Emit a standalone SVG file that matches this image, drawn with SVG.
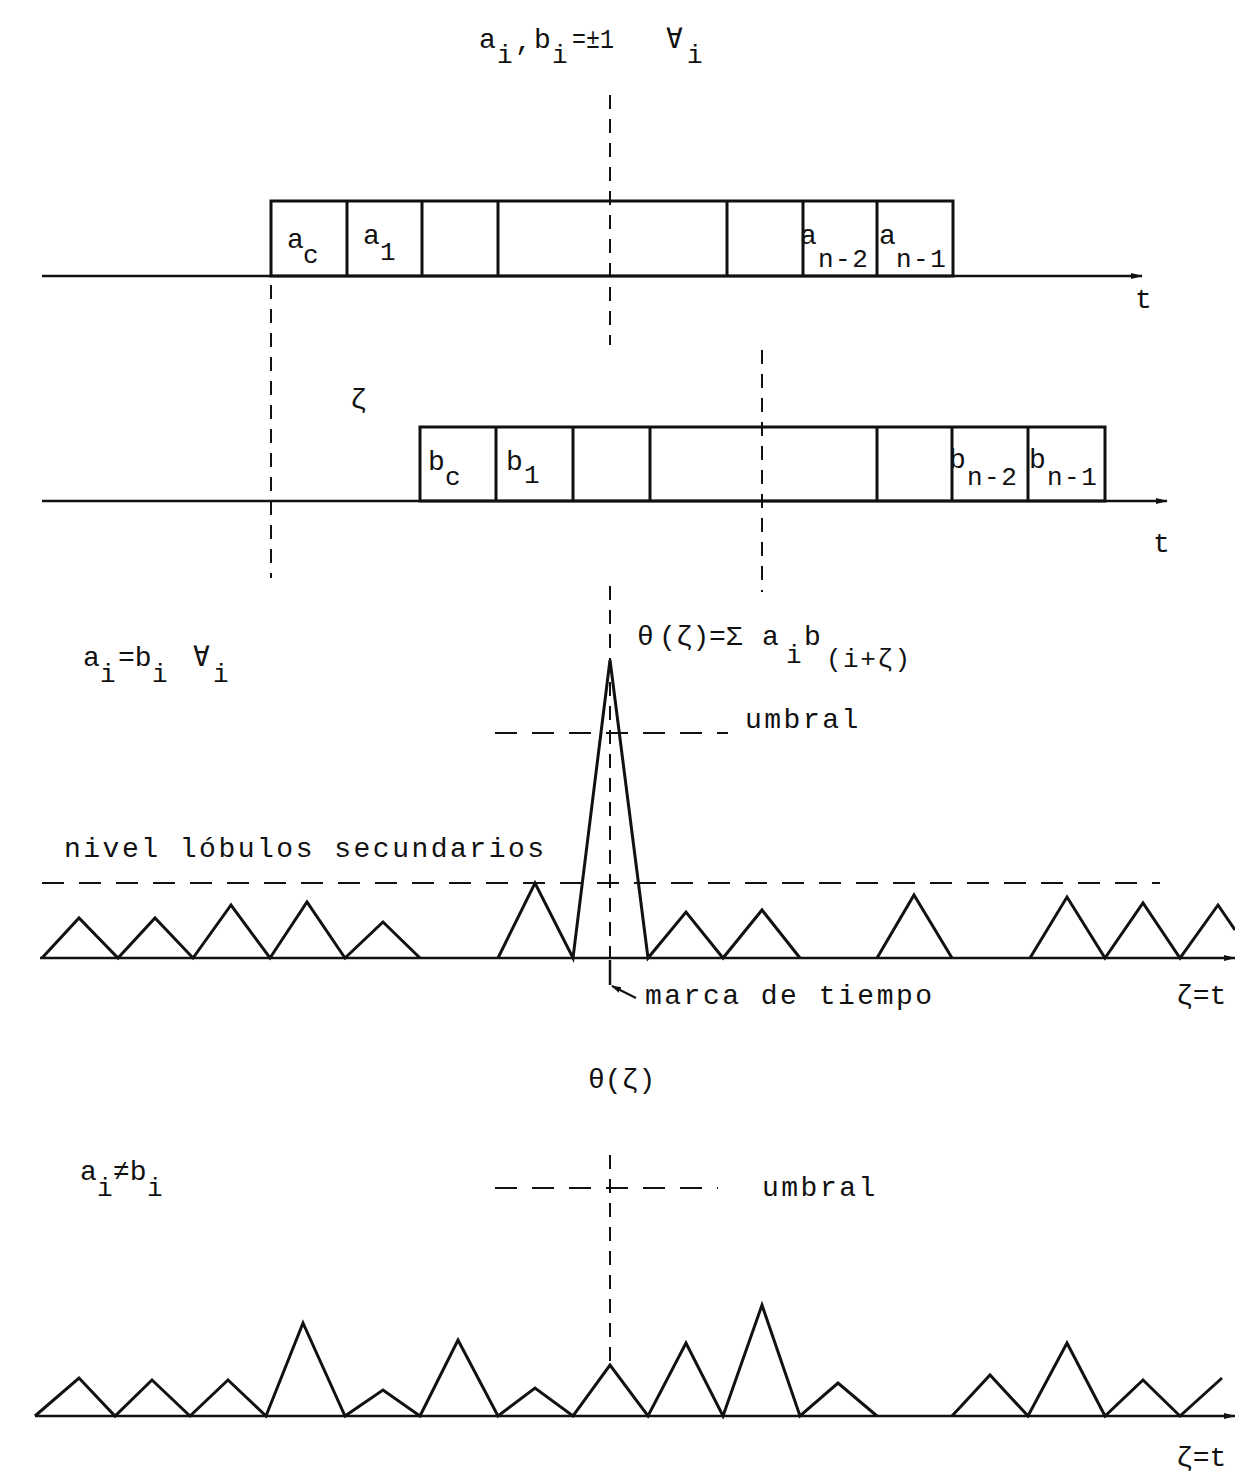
<svg xmlns="http://www.w3.org/2000/svg" width="1235" height="1484" viewBox="0 0 1235 1484">
<style>
text{font-family:"Liberation Mono","DejaVu Sans Mono",monospace;font-size:28px;letter-spacing:2.5px;fill:#111;}
.s{font-size:26px;letter-spacing:1.5px;}
.n{letter-spacing:0px;}
.ax{stroke:#111;stroke-width:2.5;fill:none;}
.bx{stroke:#111;stroke-width:3;fill:none;}
.dv{stroke:#111;stroke-width:2;stroke-dasharray:14 10;fill:none;}
.dh{stroke:#111;stroke-width:2.2;stroke-dasharray:22 15;fill:none;}
.tri{stroke:#111;stroke-width:3;fill:none;stroke-linejoin:miter;}
</style>
<defs>
<marker id="arr" markerWidth="12" markerHeight="8" refX="11" refY="4" orient="auto" markerUnits="userSpaceOnUse">
<path d="M0,1 L12,4 L0,7 Z" fill="#111"/>
</marker>
<marker id="arr2" markerWidth="10" markerHeight="8" refX="9" refY="4" orient="auto" markerUnits="userSpaceOnUse">
<path d="M0,1 L10,4 L0,7 Z" fill="#111"/>
</marker>
</defs>

<g id="title">
<text x="479" y="48">a</text><text x="497" y="63" class="s">i</text><text x="515" y="50">,</text>
<text x="534" y="48">b</text><text x="552" y="63" class="s">i</text><text x="572" y="48" class="n" font-size="26" textLength="42" lengthAdjust="spacingAndGlyphs">=±1</text>
<text x="666" y="48">∀</text><text x="687" y="63" class="s">i</text>
</g>

<g id="connectors">
<line class="ax" x1="42" y1="276" x2="1142" y2="276" marker-end="url(#arr)"/>
<line class="ax" x1="42" y1="501" x2="1167" y2="501" marker-end="url(#arr)"/>
<line class="ax" x1="40" y1="958" x2="1235" y2="958" marker-end="url(#arr)"/>
<line class="ax" x1="35" y1="1416" x2="1235" y2="1416" marker-end="url(#arr)"/>
<line class="dv" x1="610" y1="95" x2="610" y2="345"/>
<line class="dv" x1="271" y1="285" x2="271" y2="578"/>
<line class="dv" x1="762" y1="350" x2="762" y2="592"/>
<line class="dv" x1="610" y1="586" x2="610" y2="958"/>
<line class="dv" x1="610" y1="1155" x2="610" y2="1365"/>
<line class="dh" x1="495" y1="733" x2="728" y2="733"/>
<line class="dh" x1="42" y1="883" x2="1160" y2="883"/>
<line class="dh" x1="495" y1="1188" x2="718" y2="1188"/>
<path class="ax" d="M610,960 L610,985" stroke-width="2"/>
<line x1="636" y1="998" x2="612" y2="986" stroke="#111" stroke-width="2" marker-end="url(#arr2)"/>
</g>

<g id="sequence-a">
<rect class="bx" x="271" y="201" width="682" height="75"/>
<path class="bx" d="M347,201V276 M422,201V276 M498,201V276 M727,201V276 M803,201V276 M877,201V276"/>
<text x="287" y="248">a</text><text x="303" y="263" class="s">c</text>
<text x="363" y="244">a</text><text x="380" y="260" class="s">1</text>
<text x="800" y="244">a</text><text x="818" y="267" class="s">n-2</text>
<text x="879" y="244">a</text><text x="896" y="267" class="s">n-1</text>
<text x="1135" y="308">t</text>
</g>

<g id="sequence-b">
<rect class="bx" x="420" y="427" width="685" height="74"/>
<path class="bx" d="M496,427V501 M573,427V501 M650,427V501 M877,427V501 M952,427V501 M1028,427V501"/>
<text x="428" y="470">b</text><text x="445" y="485" class="s">c</text>
<text x="506" y="470">b</text><text x="524" y="483" class="s">1</text>
<text x="949" y="468">b</text><text x="967" y="485" class="s">n-2</text>
<text x="1029" y="468">b</text><text x="1047" y="485" class="s">n-1</text>
<text x="1153" y="552">t</text>
<text x="350" y="408">ζ</text>
</g>

<g id="correlation-equal">
<text x="83" y="666">a</text><text x="100" y="682" class="s">i</text><text x="118" y="666" class="n">=b</text><text x="152" y="682" class="s">i</text>
<text x="193" y="666">∀</text><text x="213" y="682" class="s">i</text>
<text x="637" y="645">θ</text><text x="659" y="645" class="n">(ζ)</text><text x="709" y="645" class="n">=Σ</text>
<text x="762" y="645">a</text><text x="786" y="663" class="s">i</text><text x="804" y="645">b</text><text x="826" y="667" class="s">(i+ζ)</text>
<text x="745" y="728">umbral</text>
<text x="64" y="857">nivel lóbulos secundarios</text>
<polyline class="tri" points="42,958 79,918 118,958 155,918 193,958 231,905 270,958 307,902 345,958 383,922 420,958"/>
<polyline class="tri" points="498,958 535,883 573,958 610,660 648,958 686,912 723,958 762,910 800,958"/>
<polyline class="tri" points="877,958 914,895 952,958"/>
<polyline class="tri" points="1030,958 1067,897 1105,958 1143,903 1180,958 1218,905 1235,930"/>
<text x="645" y="1004">marca de tiempo</text>
<text x="1176" y="1004" class="n">ζ=t</text>
</g>

<g id="correlation-different">
<text x="588" y="1088" class="n">θ(ζ)</text>
<text x="80" y="1180">a</text><text x="97" y="1196" class="s">i</text><text x="113" y="1180" class="n">≠b</text><text x="147" y="1196" class="s">i</text>
<text x="762" y="1196">umbral</text>
<polyline class="tri" points="35,1416 79,1378 115,1416 152,1380 190,1416 228,1380 266,1416 303,1323 345,1416 383,1390 420,1416 458,1340 498,1416 535,1388 573,1416 610,1365 648,1416 686,1343 723,1416 762,1305 800,1416 838,1383 877,1416"/>
<polyline class="tri" points="952,1416 990,1375 1028,1416 1067,1343 1105,1416 1143,1380 1180,1416 1222,1378"/>
<text x="1176" y="1466" class="n">ζ=t</text>
</g>
</svg>
